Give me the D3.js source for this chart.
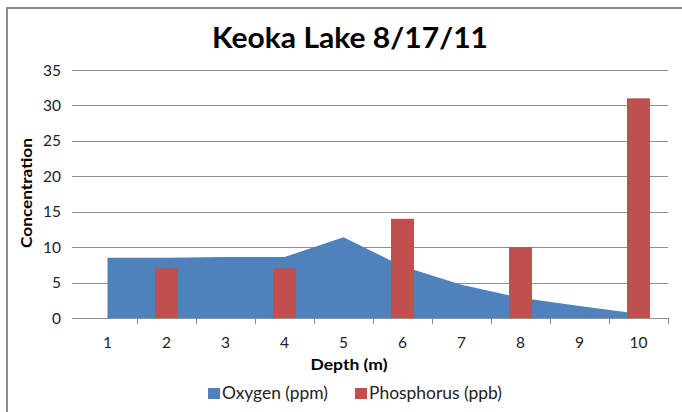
<!DOCTYPE html>
<html>
<head>
<meta charset="utf-8">
<title>Keoka Lake 8/17/11</title>
<script src="https://cdn.jsdelivr.net/npm/d3@7"></script>
<style>
  body { margin: 0; background: #fff; }
  svg { display: block; font-family: Lato, "Open Sans", sans-serif; }
</style>
</head>
<body>
<svg id="chart"></svg>
<script>
// values
var depths = [1, 2, 3, 4, 5, 6, 7, 8, 9, 10];
var oxygen = [8.5, 8.5, 8.6, 8.6, 11.4, 7.3, 4.7, 2.85, 1.7, 0.6];
var phosphorus = [null, 7, null, 7, null, 14, null, 10, null, 31];
var yTicks = [0, 5, 10, 15, 20, 25, 30, 35];
var seriesNames = ["Oxygen (ppm)", "Phosphorus (ppb)"];
var colors = ["#4f81bd", "#c0504d"];

var width = 682, height = 412;
var svg = d3.select("#chart").attr("width", width).attr("height", height);

// chart frame
svg.append("rect")
  .attr("x", 7).attr("y", 8)
  .attr("width", 690).attr("height", 420)
  .attr("fill", "#fff")
  .attr("stroke", "#8c8c8c")
  .attr("stroke-width", 2);

var x = d3.scaleBand().domain(depths).range([78, 668]).padding(0);
var y = d3.scaleLinear().domain([0, 35]).range([318, 70]);

// gridlines (with the outside tick marks)
svg.append("g").selectAll("line")
  .data(yTicks)
  .enter().append("line")
  .attr("x1", 72).attr("x2", 668)
  .attr("y1", function (d) { return Math.round(y(d)) + 0.5; })
  .attr("y2", function (d) { return Math.round(y(d)) + 0.5; })
  .attr("stroke", "#8e8e8e")
  .attr("stroke-width", 1);

// y labels
svg.append("g").selectAll("text")
  .data(yTicks)
  .enter().append("text")
  .attr("x", 61)
  .attr("y", function (d) { return y(d) + 5.5; })
  .attr("text-anchor", "end")
  .attr("font-size", 15.5)
  .attr("fill", "#222")
  .text(function (d) { return d; });

// oxygen area
var area = d3.area()
  .x(function (d, i) { return x(depths[i]) + x.bandwidth() / 2; })
  .y0(y(0))
  .y1(function (d) { return y(d); });

svg.append("path")
  .datum(oxygen)
  .attr("d", area)
  .attr("fill", colors[0]);

// phosphorus bars
var barW = 23;
svg.append("g").selectAll("rect")
  .data(depths.filter(function (d, i) { return phosphorus[i] != null; }))
  .enter().append("rect")
  .attr("x", function (d) { return x(d) + x.bandwidth() / 2 - barW / 2; })
  .attr("y", function (d) { return y(phosphorus[depths.indexOf(d)]); })
  .attr("width", barW)
  .attr("height", function (d) { return y(0) - y(phosphorus[depths.indexOf(d)]); })
  .attr("fill", colors[1]);

// x axis line and ticks
svg.append("line")
  .attr("x1", 72).attr("x2", 668)
  .attr("y1", Math.round(y(0)) + 0.5).attr("y2", Math.round(y(0)) + 0.5)
  .attr("stroke", "#8e8e8e");

svg.append("g").selectAll("line")
  .data(depths.slice(1).concat(["end"]))
  .enter().append("line")
  .attr("x1", function (d) { return Math.round(d === "end" ? 668 : x(d)) + 0.5; })
  .attr("x2", function (d) { return Math.round(d === "end" ? 668 : x(d)) + 0.5; })
  .attr("y1", y(0)).attr("y2", y(0) + 6)
  .attr("stroke", "#8e8e8e");

svg.append("g").selectAll("text")
  .data(depths)
  .enter().append("text")
  .attr("x", function (d) { return x(d) + x.bandwidth() / 2; })
  .attr("y", 348)
  .attr("text-anchor", "middle")
  .attr("font-size", 15.5)
  .attr("fill", "#222")
  .text(function (d) { return d; });

// titles
svg.append("text")
  .attr("x", 350).attr("y", 48)
  .attr("text-anchor", "middle")
  .attr("font-size", 28)
  .attr("font-weight", "bold")
  .attr("textLength", 276)
  .attr("lengthAdjust", "spacingAndGlyphs")
  .text("Keoka Lake 8/17/11");

svg.append("text")
  .attr("x", 349).attr("y", 370)
  .attr("text-anchor", "middle")
  .attr("font-size", 16)
  .attr("font-weight", "bold")
  .attr("textLength", 77)
  .attr("lengthAdjust", "spacingAndGlyphs")
  .text("Depth (m)");

svg.append("text")
  .attr("transform", "translate(32,193) rotate(-90)")
  .attr("text-anchor", "middle")
  .attr("font-size", 16)
  .attr("font-weight", "bold")
  .attr("textLength", 110)
  .attr("lengthAdjust", "spacingAndGlyphs")
  .text("Concentration");

// legend
var legendX = [208, 355];
var legendLen = [106, 133];
var legend = svg.append("g").selectAll("g")
  .data(seriesNames)
  .enter().append("g")
  .attr("transform", function (d, i) { return "translate(" + legendX[i] + ",388)"; });

legend.append("rect")
  .attr("width", 12).attr("height", 11)
  .attr("fill", function (d, i) { return colors[i]; });

legend.append("text")
  .attr("x", 14).attr("y", 10.5)
  .attr("font-size", 16.5)
  .attr("fill", "#222")
  .attr("textLength", function (d, i) { return legendLen[i]; })
  .attr("lengthAdjust", "spacingAndGlyphs")
  .text(function (d) { return d; });
</script>
</body>
</html>
